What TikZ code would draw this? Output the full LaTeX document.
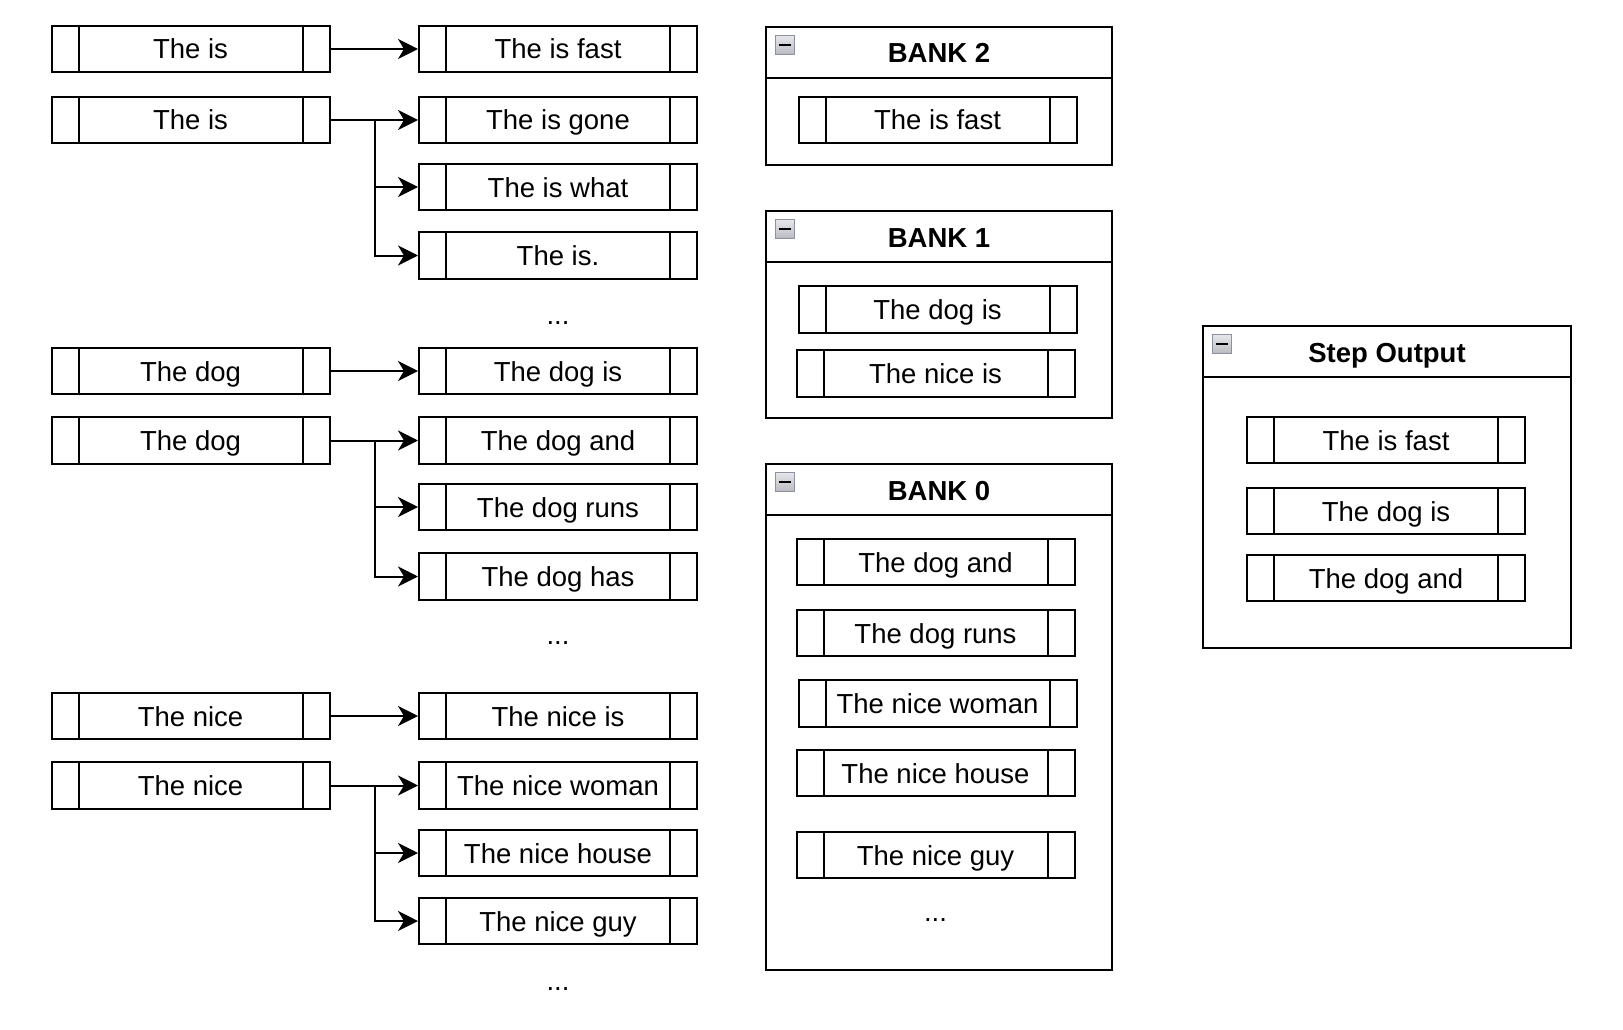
\documentclass[tikz,border=0pt]{standalone}
\usepackage{fontspec}
\setmainfont{Liberation Sans}
\usetikzlibrary{arrows.meta,calc,shadings}

\definecolor{iconborder}{HTML}{8C90A0}
\definecolor{icontop}{HTML}{E6E7EA}
\definecolor{iconbottom}{HTML}{B9BBC2}

\tikzset{
  cell/.style={draw=black, line width=2pt, minimum width=278pt, minimum height=46.5pt,
    inner sep=0pt, font=\fontsize{27.5}{33}\selectfont, text height=23pt, text depth=3pt},
  cellline/.style={line width=2pt},
  conn/.style={line width=2pt, -{Stealth[length=20pt,width=20pt,inset=6pt]}},
  frame/.style={draw=black, line width=2pt, inner sep=0pt, anchor=north west},
  headline/.style={line width=2pt},
  title/.style={font=\fontsize{27.5}{33}\selectfont\bfseries, inner sep=0pt,
    text height=20pt, text depth=0pt},
  dots/.style={font=\fontsize{27.5}{33}\selectfont, inner sep=0pt},
  icon/.style={draw=iconborder, line width=1.5pt, top color=icontop, bottom color=iconbottom,
    minimum size=19pt, inner sep=0pt},
}

% record cell: name, x, y, text
\newcommand\cellbox[4]{%
  \node[cell] (#1) at (#2,#3) {#4};
  \draw[cellline] ([xshift=28pt]#1.north west) -- ([xshift=28pt]#1.south west)
                  ([xshift=-28pt]#1.north east) -- ([xshift=-28pt]#1.south east);
}

% collapsible container: name, x, y (north west), width, height, title
\newcommand\container[6]{%
  \node[frame, minimum width=#4pt, minimum height=#5pt] (#1) at (#2,#3) {};
  \draw[headline] ([yshift=-52pt]#1.north west) -- ([yshift=-52pt]#1.north east);
  \node[title] (#1-title) at ($(#1.north)+(0,-27pt)$) {#6};
  \node[icon] (#1-icon) at ([xshift=20pt,yshift=-19pt]#1.north west) {};
  \draw[line width=2.5pt] ([xshift=-6pt]#1-icon.center) -- ([xshift=6pt]#1-icon.center);
}

\begin{document}
\begin{tikzpicture}[x=1pt,y=-1pt]
  \useasboundingbox (0,0) rectangle (1623,1030);
  \fill[white] (0,0) rectangle (1623,1030);

  % ---- candidate expansion, left part ----
  \cellbox{a1}{190.5}{49}{The is}
  \cellbox{b1}{558}{49}{The is fast}
  \cellbox{a2}{190.5}{120}{The is}
  \cellbox{b2}{558}{120}{The is gone}
  \cellbox{b3}{558}{187}{The is what}
  \cellbox{b4}{558}{255.5}{The is.}
  \node[dots] (d1) at (558,323) {...};

  \cellbox{a3}{190.5}{371}{The dog}
  \cellbox{b5}{558}{371}{The dog is}
  \cellbox{a4}{190.5}{440.5}{The dog}
  \cellbox{b6}{558}{440.5}{The dog and}
  \cellbox{b7}{558}{507}{The dog runs}
  \cellbox{b8}{558}{576.5}{The dog has}
  \node[dots] (d2) at (558,643.5) {...};

  \cellbox{a5}{190.5}{716}{The nice}
  \cellbox{b9}{558}{716}{The nice is}
  \cellbox{a6}{190.5}{785.5}{The nice}
  \cellbox{b10}{558}{785.5}{The nice woman}
  \cellbox{b11}{558}{853}{The nice house}
  \cellbox{b12}{558}{921}{The nice guy}
  \node[dots] (d3) at (558,989.5) {...};

  % connectors
  \draw[conn] (a1.east) -- (b1.west);
  \draw[conn] (a3.east) -- (b5.west);
  \draw[conn] (a5.east) -- (b9.west);

  \draw[conn] (a2.east) -- (b2.west);
  \coordinate (j2) at (374.5,120);
  \draw[conn] (j2) |- (b3.west);
  \draw[conn] (j2) |- (b4.west);

  \draw[conn] (a4.east) -- (b6.west);
  \coordinate (j4) at (374.5,440.5);
  \draw[conn] (j4) |- (b7.west);
  \draw[conn] (j4) |- (b8.west);

  \draw[conn] (a6.east) -- (b10.west);
  \coordinate (j6) at (374.5,785.5);
  \draw[conn] (j6) |- (b11.west);
  \draw[conn] (j6) |- (b12.west);

  % ---- banks ----
  \container{bank2}{765}{26}{346}{138}{BANK 2}
  \cellbox{k2a}{937.5}{120}{The is fast}

  \container{bank1}{765}{210}{346}{207}{BANK 1}
  \cellbox{k1a}{937.5}{309.5}{The dog is}
  \cellbox{k1b}{935.5}{373.5}{The nice is}

  \container{bank0}{765}{463}{346}{506}{BANK 0}
  \cellbox{k0a}{935.5}{562}{The dog and}
  \cellbox{k0b}{935.5}{633}{The dog runs}
  \cellbox{k0c}{937.5}{703.5}{The nice woman}
  \cellbox{k0d}{935.5}{773}{The nice house}
  \cellbox{k0e}{935.5}{855}{The nice guy}
  \node[dots] (d4) at (935.5,920.5) {...};

  % ---- step output ----
  \container{step}{1202}{325}{368}{322}{Step Output}
  \cellbox{s1}{1386}{440}{The is fast}
  \cellbox{s2}{1386}{511}{The dog is}
  \cellbox{s3}{1386}{578}{The dog and}
\end{tikzpicture}
\end{document}
